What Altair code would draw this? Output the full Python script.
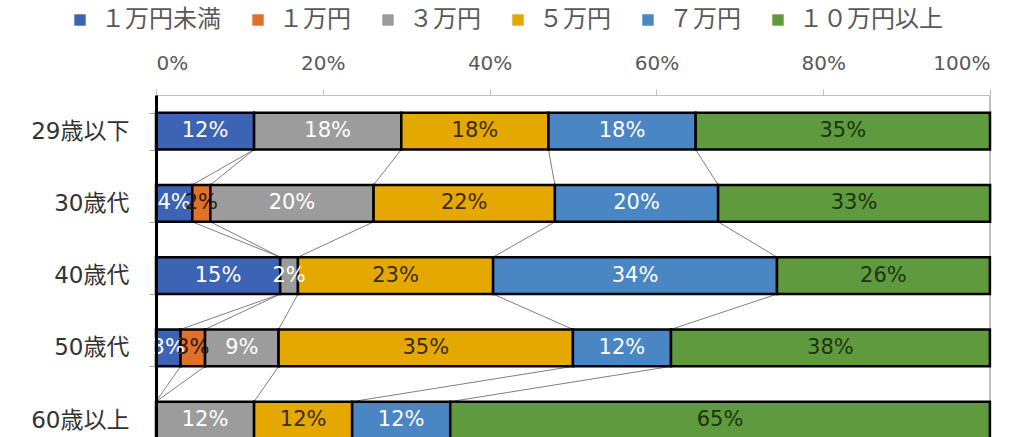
import altair as alt
import pandas as pd

# ---- data (percent of respondents) ----
categories = ["29歳以下", "30歳代", "40歳代", "50歳代", "60歳以上"]
series = ["１万円未満", "１万円", "３万円", "５万円", "７万円", "１０万円以上"]
v_under1 = [11.76, 4.35, 14.89, 2.94, 0.0]
v_1 = [0.0, 2.17, 0.0, 2.94, 0.0]
v_3 = [17.65, 19.57, 2.13, 8.82, 11.76]
v_5 = [17.65, 21.74, 23.40, 35.29, 11.76]
v_7 = [17.65, 19.57, 34.04, 11.76, 11.76]
v_10 = [35.29, 32.61, 25.53, 38.24, 64.71]
x_ticks = [0, 20, 40, 60, 80, 100]

# ---- styles ----
bar_colors = ["#3d64b4", "#e0702a", "#9c9c9c", "#e5a800", "#4a86c3", "#5f9a3e"]
label_colors = ["#ffffff", "#2b1a10", "#ffffff", "#3d2b00", "#ffffff", "#1d3311"]

values_by_series = [v_under1, v_1, v_3, v_5, v_7, v_10]

rows = []
for ci, cat in enumerate(categories):
    start = 0.0
    for si, s in enumerate(series):
        v = values_by_series[si][ci]
        rows.append(dict(cat=cat, series=s, order=si, start=start, end=start + v,
                         mid=start + v / 2, value=v,
                         label=f"{round(v)}%", lc=label_colors[si]))
        start += v
df = pd.DataFrame(rows)

line_rows = []
for ci in range(len(categories) - 1):
    for si in range(len(series) - 1):
        e1 = df[(df.cat == categories[ci]) & (df.order == si)].end.iloc[0]
        e2 = df[(df.cat == categories[ci + 1]) & (df.order == si)].end.iloc[0]
        line_rows.append(dict(cat1=categories[ci], cat2=categories[ci + 1], xa=e1, xb=e2))
lines_df = pd.DataFrame(line_rows)

FONT_NUM = "DejaVu Sans, Noto Sans CJK JP"
FONT_CJK = "Noto Sans CJK JP"

x_scale = alt.Scale(domain=[0, 100], nice=False)
y_scale = alt.Scale(domain=categories, range=[0, 361.25], paddingInner=0.488, paddingOuter=0.244)

x_axis = alt.Axis(orient="top", values=x_ticks, labelExpr="datum.value + '%'", title=None,
                  grid=False, domainColor="#bfbfbf", tickColor="#bfbfbf", tickSize=6,
                  labelFont=FONT_NUM, labelFontSize=20, labelColor="#595959", labelPadding=16)
y_axis = alt.Axis(title=None, domainColor="black", domainWidth=3, tickColor="#a6a6a6",
                  tickSize=7, tickBand="extent", labelFont=FONT_NUM, labelFontSize=23,
                  labelColor="#333333", labelPadding=20, zindex=1)

base = alt.Chart(df)

right_line = alt.Chart(df).mark_rule(color="#bfbfbf", strokeWidth=1.5).encode(
    x=alt.datum(100, scale=x_scale)
)

bars = base.mark_bar(stroke="black", strokeWidth=2.5).encode(
    x=alt.X("start:Q", scale=x_scale, axis=x_axis),
    x2="end:Q",
    y=alt.Y("cat:N", scale=y_scale, axis=y_axis, sort=categories),
    color=alt.Color("series:N", scale=alt.Scale(domain=series, range=bar_colors),
                    legend=alt.Legend(title=None, orient="none", legendX=-88, legendY=-87,
                                      direction="horizontal", columns=6,
                                      symbolType="square", symbolSize=130,
                                      symbolStrokeWidth=0, labelFont=FONT_CJK,
                                      labelFontSize=24, labelColor="#595959",
                                      labelOffset=9, columnPadding=25)),
).transform_filter("datum.value > 0")

series_lines = alt.Chart(lines_df).mark_rule(color="#7f7f7f", strokeWidth=1,
                                             yOffset=18.5, y2Offset=-18.5).encode(
    x=alt.X("xa:Q", scale=x_scale),
    x2="xb:Q",
    y=alt.Y("cat1:N", scale=y_scale),
    y2="cat2:N",
)

labels = base.mark_text(font=FONT_NUM, fontSize=21).encode(
    x=alt.X("mid:Q", scale=x_scale),
    y=alt.Y("cat:N", scale=y_scale),
    text="label:N",
    color=alt.Color("lc:N", scale=None),
).transform_filter("datum.value > 0")

chart = alt.layer(right_line, series_lines, bars, labels).properties(
    width=834, height=342,
    autosize=alt.AutoSizeParams(type="none"),
    padding={"left": 156, "top": 95, "right": 34, "bottom": 0},
).configure_view(stroke=None)

chart.save("out.html", embed_options={"renderer": "svg", "actions": False})
